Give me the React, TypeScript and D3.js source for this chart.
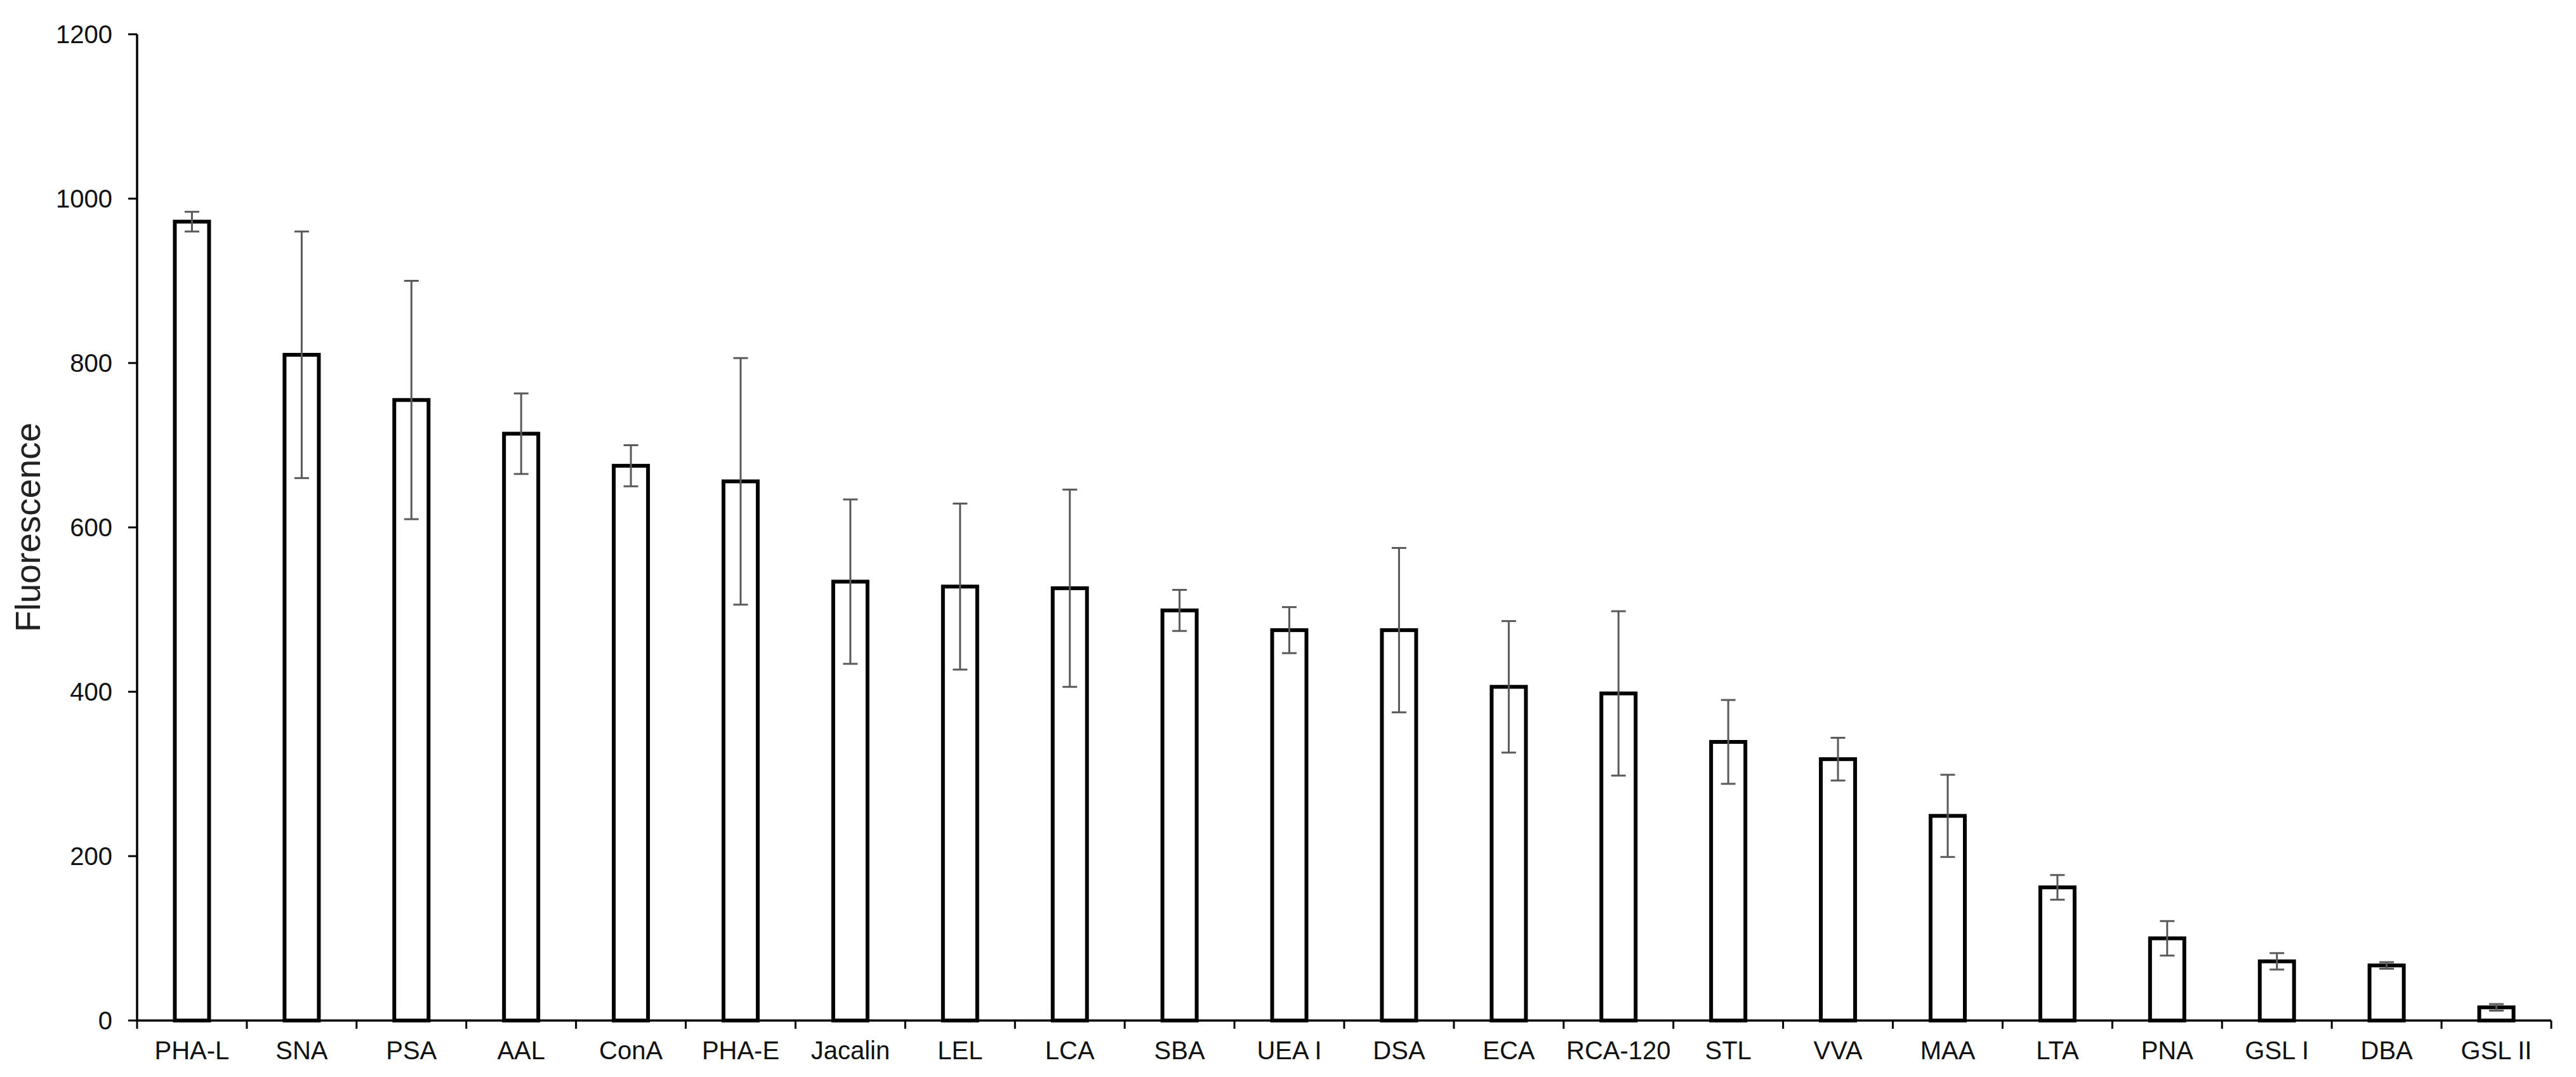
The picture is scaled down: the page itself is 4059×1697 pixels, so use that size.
import React from 'react'
import * as d3 from 'd3'

const lectins = ['PHA-L','SNA','PSA','AAL','ConA','PHA-E','Jacalin','LEL','LCA','SBA','UEA I','DSA','ECA','RCA-120','STL','VVA','MAA','LTA','PNA','GSL I','DBA','GSL II'];
const fluorescence = [972, 810, 755, 714, 675, 656, 534, 528, 526, 499, 475, 475, 406, 398, 339, 318, 249, 162, 100, 72, 67, 16];
const errors = [12, 150, 145, 49, 25, 150, 100, 101, 120, 25, 28, 100, 80, 100, 51, 26, 50, 15, 21, 10, 4, 4];
const yTicks = [0, 200, 400, 600, 800, 1000, 1200];

const W = 4059, H = 1697;
const font = '"Liberation Sans", Arial, sans-serif';

export default function App() {
  const x = d3.scaleBand().domain(lectins).range([216, 4020]).padding(0);
  const y = d3.scaleLinear().domain([0, 1200]).range([1608, 54]);
  const barW = 54; // centre-line width, stroke adds the rest
  const capW = 23;
  const y0 = y(0);

  return (
    <svg width={W} height={H} style={{position:'absolute', left:0, top:0, background:'#fff'}} fontFamily={font}>
      <rect width={W} height={H} fill="#fff" />
      {/* bars */}
      {lectins.map((k, i) => {
        const cx = x(k)! + x.bandwidth() / 2;
        return <rect key={k} x={cx - barW / 2} y={y(fluorescence[i])} width={barW} height={y0 - y(fluorescence[i])}
          fill="#fff" stroke="#000" strokeWidth={6} />
      })}
      {/* error bars */}
      {lectins.map((k, i) => {
        const cx = x(k)! + x.bandwidth() / 2;
        const hi = y(fluorescence[i] + errors[i]), lo = y(fluorescence[i] - errors[i]);
        return <g key={k} stroke="#595959" strokeWidth={3}>
          <line x1={cx} x2={cx} y1={hi} y2={lo} />
          <line x1={cx - capW / 2} x2={cx + capW / 2} y1={hi} y2={hi} />
          <line x1={cx - capW / 2} x2={cx + capW / 2} y1={lo} y2={lo} />
        </g>
      })}
      {/* y axis */}
      <line x1={216} x2={216} y1={y(1200)} y2={y0} stroke="#000" strokeWidth={3.5} />
      {yTicks.map(t => (
        <g key={t}>
          <line x1={202} x2={216} y1={y(t)} y2={y(t)} stroke="#000" strokeWidth={3} />
          <text x={177} y={y(t)} dy="0.36em" textAnchor="end" fontSize={40} fill="#111">{t}</text>
        </g>
      ))}
      {/* x axis */}
      <line x1={216} x2={4020} y1={y0} y2={y0} stroke="#000" strokeWidth={3.5} />
      {[...lectins.map(k => x(k)!), 4020].map((px, i) => (
        <line key={i} x1={px} x2={px} y1={y0} y2={y0 + 13} stroke="#000" strokeWidth={3} />
      ))}
      {lectins.map(k => (
        <text key={k} x={x(k)! + x.bandwidth() / 2} y={1669} textAnchor="middle" fontSize={40} fill="#111">{k}</text>
      ))}
      <text transform={`translate(63,${(y(1200) + y0) / 2}) rotate(-90)`} textAnchor="middle" fontSize={55} fill="#222">Fluorescence</text>
    </svg>
  )
}
